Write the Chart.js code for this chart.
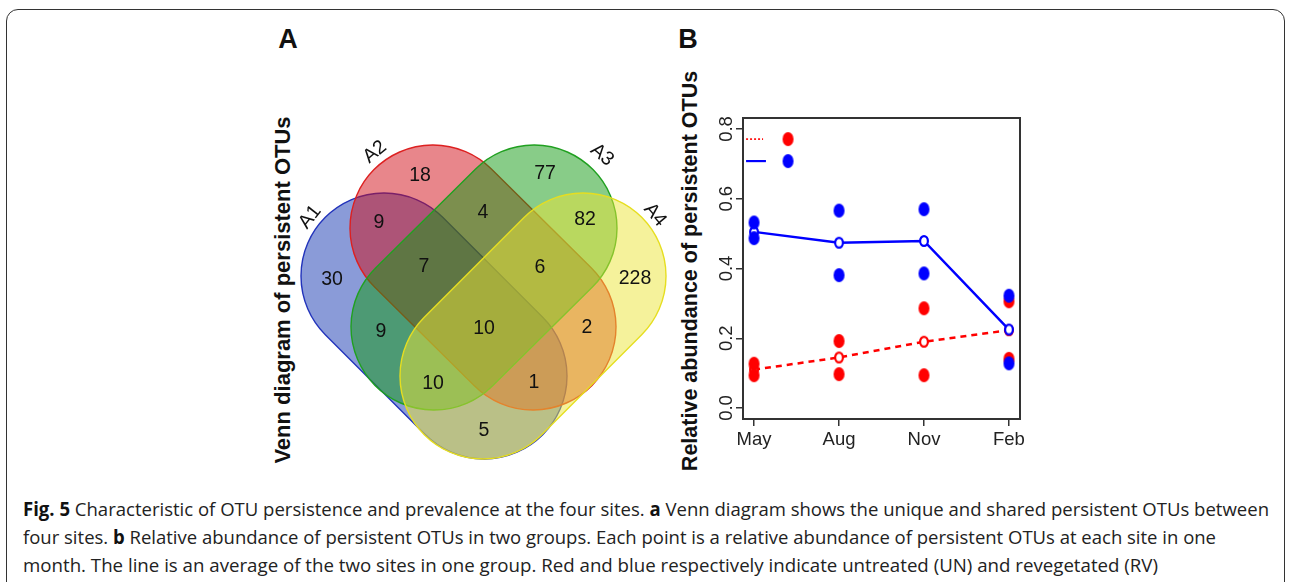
<!DOCTYPE html>
<html>
<head>
<meta charset="utf-8">
<script src="https://cdn.jsdelivr.net/npm/chart.js@4.4.1/dist/chart.umd.min.js"></script>
<style>
  body { margin: 0; width: 1290px; height: 582px; overflow: hidden; background: #fff; position: relative; font-family: "Liberation Sans", Arial, sans-serif; }
  #frame { position: absolute; left: 6px; top: 9px; width: 1277px; height: 620px; border: 1.8px solid #333; border-radius: 12px; }
  canvas { position: absolute; }
  .lbl { position: absolute; white-space: nowrap; font-weight: bold; color: #111; }
  .rot { transform: translate(-50%, -50%) rotate(-90deg); }
  .panel { font-size: 27px; transform: translate(-50%, -50%); }
  .cap { position: absolute; left: 23px; white-space: nowrap; font-family: "Open Sans", sans-serif; font-size: 19px; color: #222; transform-origin: 0 50%; line-height: 22px; }
  .cap b { color: #111; }
</style>
</head>
<body>
<div id="frame"></div>

<div class="lbl panel" style="left:288px;top:39px">A</div>
<div class="lbl panel" style="left:688px;top:39px">B</div>
<div class="lbl rot" style="left:283px;top:290px;font-size:22px">Venn diagram of persistent OTUs</div>
<div class="lbl rot" style="left:690px;top:271px;font-size:21.5px">Relative abundance of persistent OTUs</div>

<canvas id="venn" width="420" height="450" style="left:260px;top:20px"></canvas>
<canvas id="abund" width="380" height="450" style="left:660px;top:20px"></canvas>

<div class="cap" id="c1" style="top:498px"><b>Fig. 5</b> Characteristic of OTU persistence and prevalence at the four sites. <b>a</b> Venn diagram shows the unique and shared persistent OTUs between</div>
<div class="cap" id="c2" style="top:526px">four sites. <b>b</b> Relative abundance of persistent OTUs in two groups. Each point is a relative abundance of persistent OTUs at each site in one</div>
<div class="cap" id="c3" style="top:554px">month. The line is an average of the two sites in one group. Red and blue respectively indicate untreated (UN) and revegetated (RV)</div>

<script>
// ---- panel A data
const sets = ["A1", "A2", "A3", "A4"];
const regions = ["A2", "A3", "A1A2", "A2A3", "A3A4", "A1", "A1A2A3", "A2A3A4", "A4",
                 "A1A3", "A1A2A3A4", "A2A4", "A1A3A4", "A1A2A4", "A1A4"];
const regionCounts = [18, 77, 9, 4, 82, 30, 7, 6, 228, 9, 10, 2, 10, 1, 5];

// ---- panel B data
const months = ["May", "Aug", "Nov", "Feb"];
const unSite1 = [0.127, 0.192, 0.286, 0.306];
const unSite2 = [0.094, 0.097, 0.094, 0.141];
const rvSite1 = [0.532, 0.566, 0.570, 0.322];
const rvSite2 = [0.487, 0.381, 0.386, 0.128];
const unMean = [0.110, 0.145, 0.190, 0.223];
const rvMean = [0.505, 0.474, 0.479, 0.225];

// ---- panel A layout (page pixel coordinates)
const setEnds = [
  [384, 276, 484, 376],
  [433, 228, 533, 327],
  [534, 228, 434, 327],
  [583, 276, 483, 376]
];
const setRadius = 83;
const setFill = ["rgba(21,55,177,0.5)", "rgba(209,13,23,0.5)", "rgba(17,153,17,0.5)", "rgba(235,229,55,0.5)"];
const setLine = ["#2233bb", "#dd2020", "#20a020", "#e6de20"];
const setLabelPos = [{x: 310, y: 217}, {x: 375, y: 152}, {x: 602, y: 155}, {x: 655, y: 215}];
const setLabelRot = [-52, -40, 40, 50];
const regionPos = [
  {x: 420, y: 176}, {x: 545, y: 174}, {x: 379, y: 223}, {x: 483, y: 213}, {x: 585, y: 220},
  {x: 332, y: 280}, {x: 424, y: 267}, {x: 540, y: 268}, {x: 635, y: 279},
  {x: 381, y: 332}, {x: 484, y: 329}, {x: 587, y: 328},
  {x: 433, y: 384}, {x: 534, y: 383}, {x: 484, y: 431}
];

const vennPlugin = {
  id: "venn",
  beforeDatasetsDraw(chart) {
    const ctx = chart.ctx, sx = chart.scales.x, sy = chart.scales.y;
    setEnds.forEach((e, i) => {
      const x1 = sx.getPixelForValue(e[0]), y1 = sy.getPixelForValue(e[1]);
      const x2 = sx.getPixelForValue(e[2]), y2 = sy.getPixelForValue(e[3]);
      const r = sx.getPixelForValue(e[0] + setRadius) - x1;
      const a = Math.atan2(y2 - y1, x2 - x1);
      ctx.save();
      ctx.beginPath();
      ctx.arc(x2, y2, r, a - Math.PI / 2, a + Math.PI / 2);
      ctx.arc(x1, y1, r, a + Math.PI / 2, a + 3 * Math.PI / 2);
      ctx.closePath();
      ctx.fillStyle = setFill[i];
      ctx.fill();
      ctx.lineWidth = 1.4;
      ctx.strokeStyle = setLine[i];
      ctx.stroke();
      ctx.restore();
    });
  },
  afterDatasetsDraw(chart) {
    const ctx = chart.ctx;
    ctx.save();
    ctx.fillStyle = "#111";
    ctx.textAlign = "center";
    ctx.textBaseline = "middle";
    ctx.font = "19.5px 'Liberation Sans', Arial, sans-serif";
    chart.getDatasetMeta(0).data.forEach((pt, i) => ctx.fillText(String(regionCounts[i]), pt.x, pt.y));
    chart.getDatasetMeta(1).data.forEach((pt, i) => {
      ctx.save();
      ctx.translate(pt.x, pt.y);
      ctx.rotate(setLabelRot[i] * Math.PI / 180);
      ctx.fillText(sets[i], 0, 0);
      ctx.restore();
    });
    ctx.restore();
  }
};

new Chart(document.getElementById("venn"), {
  type: "scatter",
  data: {
    datasets: [
      { data: regionPos, pointRadius: 0 },
      { data: setLabelPos, pointRadius: 0 }
    ]
  },
  options: {
    responsive: false,
    animation: false,
    events: [],
    layout: { padding: 0 },
    plugins: { legend: { display: false }, tooltip: { enabled: false } },
    scales: {
      x: { type: "linear", min: 260, max: 680, display: false },
      y: { type: "linear", min: 20, max: 470, reverse: true, display: false }
    }
  },
  plugins: [vennPlugin]
});

// ---- panel B
function ellipseImg(w, h, fill, stroke, lw) {
  const c = document.createElement("canvas");
  c.width = w + 2; c.height = h + 2;
  const g = c.getContext("2d");
  g.beginPath();
  g.ellipse(c.width / 2, c.height / 2, w / 2 - (lw || 0) / 2, h / 2 - (lw || 0) / 2, 0, 0, Math.PI * 2);
  g.fillStyle = fill;
  g.fill();
  if (stroke) { g.lineWidth = lw; g.strokeStyle = stroke; g.stroke(); }
  return c;
}
const RED = "#ff0000", BLUE = "#0000ff";
const redDot = ellipseImg(11, 14, RED);
const blueDot = ellipseImg(11, 14, BLUE);
const redRing = ellipseImg(10, 12, "#fff", RED, 2.2);
const blueRing = ellipseImg(10, 12, "#fff", BLUE, 2.2);

const pts = (arr) => arr.map((v, i) => ({x: i, y: v}));

const legendY = [0.771, 0.708];
const legendLineX = [[-0.094, 0.106], [-0.094, 0.14]];
const legendDotX = 0.4;

const frameAndTicks = {
  id: "frameAndTicks",
  afterDraw(chart) {
    const ctx = chart.ctx, a = chart.chartArea, sy = chart.scales.y;
    ctx.save();
    ctx.strokeStyle = "#333";
    ctx.lineWidth = 2;
    ctx.strokeRect(a.left, a.top, a.right - a.left, a.bottom - a.top);
    ctx.fillStyle = "#222";
    ctx.font = "18.5px 'Liberation Sans', Arial, sans-serif";
    ctx.textAlign = "center";
    ctx.textBaseline = "middle";
    sy.ticks.forEach(t => {
      ctx.save();
      ctx.translate(67, sy.getPixelForValue(t.value));
      ctx.rotate(-Math.PI / 2);
      ctx.fillText(t.value.toFixed(1), 0, 0);
      ctx.restore();
    });
    ctx.restore();
  }
};

new Chart(document.getElementById("abund"), {
  type: "line",
  data: {
    datasets: [
      { data: pts(unMean), borderColor: RED, borderWidth: 2.5, borderDash: [6, 5], pointStyle: redRing, pointRadius: 6, order: 5 },
      { data: pts(rvMean), borderColor: BLUE, borderWidth: 2.5, pointStyle: blueRing, pointRadius: 6, order: 4 },
      { data: pts(unSite1).concat(pts(unSite2)), showLine: false, pointStyle: redDot, pointRadius: 6, order: 3 },
      { data: pts(rvSite1).concat(pts(rvSite2)), showLine: false, pointStyle: blueDot, pointRadius: 6, order: 2 },
      { data: legendLineX[0].map(x => ({x, y: legendY[0]})), borderColor: RED, borderWidth: 1.6, borderDash: [2, 2], pointRadius: 0, order: 1 },
      { data: legendLineX[1].map(x => ({x, y: legendY[1]})), borderColor: BLUE, borderWidth: 2.2, pointRadius: 0, order: 1 },
      { data: [{x: legendDotX, y: legendY[0]}], showLine: false, pointStyle: redDot, pointRadius: 6, order: 0 },
      { data: [{x: legendDotX, y: legendY[1]}], showLine: false, pointStyle: blueDot, pointRadius: 6, order: 0 }
    ]
  },
  options: {
    responsive: false,
    animation: false,
    events: [],
    layout: { padding: { left: 0, right: 20, top: 98, bottom: 0 } },
    plugins: { legend: { display: false }, tooltip: { enabled: false } },
    elements: { line: { tension: 0 } },
    scales: {
      x: {
        type: "linear", min: -0.13, max: 3.13,
        border: { display: false },
        grid: { drawOnChartArea: false, drawTicks: true, tickLength: 7, color: "#333", lineWidth: 1.5 },
        ticks: { stepSize: 1, includeBounds: false, color: "#222", padding: 3, maxRotation: 0,
                 font: { family: "'Liberation Sans', Arial, sans-serif", size: 18.5 },
                 callback: v => months[v] ?? "" },
        afterFit: s => { s.height = 51; }
      },
      y: {
        type: "linear", min: -0.0315, max: 0.8315,
        border: { display: false },
        grid: { drawOnChartArea: false, drawTicks: true, tickLength: 7, color: "#333", lineWidth: 1.5 },
        ticks: { stepSize: 0.2, includeBounds: false, display: false },
        afterFit: s => { s.width = 83; }
      }
    }
  },
  plugins: [frameAndTicks]
});

// squeeze caption lines to the reference widths
const capWidths = { c1: 1246, c2: 1193, c3: 1135 };
Object.keys(capWidths).forEach(id => {
  const el = document.getElementById(id);
  const w = el.getBoundingClientRect().width;
  el.style.transform = "scaleX(" + (capWidths[id] / w) + ")";
});
</script>
</body>
</html>
